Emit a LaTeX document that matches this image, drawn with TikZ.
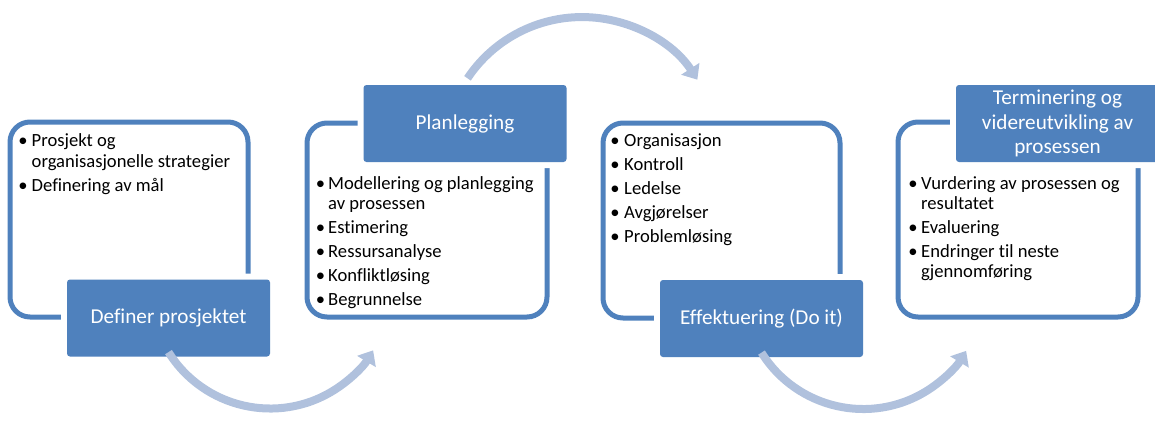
\documentclass[tikz,border=0pt]{standalone}
\usepackage{fontspec}
\setmainfont{Carlito}[Ligatures=NoCommon]
\usetikzlibrary{arrows.meta}
\definecolor{accent}{RGB}{79,129,189}
\definecolor{flow}{RGB}{176,193,221}

\begin{document}
\begin{tikzpicture}[x=1pt,y=-1pt,
  frame/.style={draw=accent, line width=5pt, rounded corners=20pt, inner sep=0pt},
  head/.style={fill=accent, rounded corners=3pt, text=white, inner sep=0pt,
    font=\fontsize{21.2}{24.5}\selectfont, align=center,
    minimum width=203pt, minimum height=77pt,
    preaction={draw=white, line width=12pt}},
  body/.style={anchor=base west, inner sep=0pt, font=\fontsize{18.6}{22}\selectfont},
  dot/.style={anchor=base, inner sep=0pt, font=\fontsize{18.6}{22}\selectfont},
  flowarrow/.style={draw=flow, line width=8pt, -{Triangle[width=21pt,length=13pt]}}]

\useasboundingbox (0,0) rectangle (1155,424);

% outlined content panels
\node[frame, minimum width=238pt, minimum height=195pt] (f1) at (129,219.5) {};
\node[frame, minimum width=240pt, minimum height=194pt] (f2) at (427,220) {};
\node[frame, minimum width=237pt, minimum height=195pt] (f3) at (721.5,220.5) {};
\node[frame, minimum width=240pt, minimum height=195pt] (f4) at (1018,219.5) {};

% stage headers
\node[head] (h1) at (168.5,318) {Definer prosjektet};
\node[head] (h2) at (465,123.5) {Planlegging};
\node[head] (h3) at (761.5,318.5) {Effektuering (Do it)};
\node[head] (h4) at (1057.5,123.5) {Terminering og\\videreutvikling av\\prosessen};

% panel 1 bullets
\foreach \y [count=\i] in {146,191}
  \node[dot] (d1-\i) at (23,\y) {•};
\foreach \t/\y [count=\i] in {Prosjekt og/146, organisasjonelle strategier/167, Definering av mål/191}
  \node[body] (t1-\i) at (31.5,\y) {\t};

% panel 2 bullets
\foreach \y [count=\i] in {189,233,257,281,305}
  \node[dot] (d2-\i) at (320.5,\y) {•};
\foreach \t/\y [count=\i] in {Modellering og planlegging/189, av prosessen/209, Estimering/233, Ressursanalyse/257, Konfliktløsing/281, Begrunnelse/305}
  \node[body] (t2-\i) at (328,\y) {\t};

% panel 3 bullets
\foreach \y [count=\i] in {146,170,194,218,242}
  \node[dot] (d3-\i) at (615,\y) {•};
\foreach \t/\y [count=\i] in {Organisasjon/146, Kontroll/170, Ledelse/194, Avgjørelser/218, Problemløsing/242}
  \node[body] (t3-\i) at (624,\y) {\t};

% panel 4 bullets
\foreach \y [count=\i] in {189,233,257}
  \node[dot] (d4-\i) at (913,\y) {•};
\foreach \t/\y [count=\i] in {Vurdering av prosessen og/189, resultatet/209, Evaluering/233, Endringer til neste/257, gjennomføring/277}
  \node[body] (t4-\i) at (921,\y) {\t};

% curved flow arrows between stages
\coordinate (a1) at ([yshift=4.6pt]h1.south);
\coordinate (a2) at (467.5,78.3);
\coordinate (a3) at ([yshift=4.6pt]h3.south);
\draw[flowarrow] (a1) arc[start angle=148, end angle=31, radius=120];
\draw[flowarrow] (a2) arc[start angle=-146.3, end angle=-33, radius=137.6];
\draw[flowarrow] (a3) arc[start angle=148, end angle=31, radius=120];
\end{tikzpicture}
\end{document}
